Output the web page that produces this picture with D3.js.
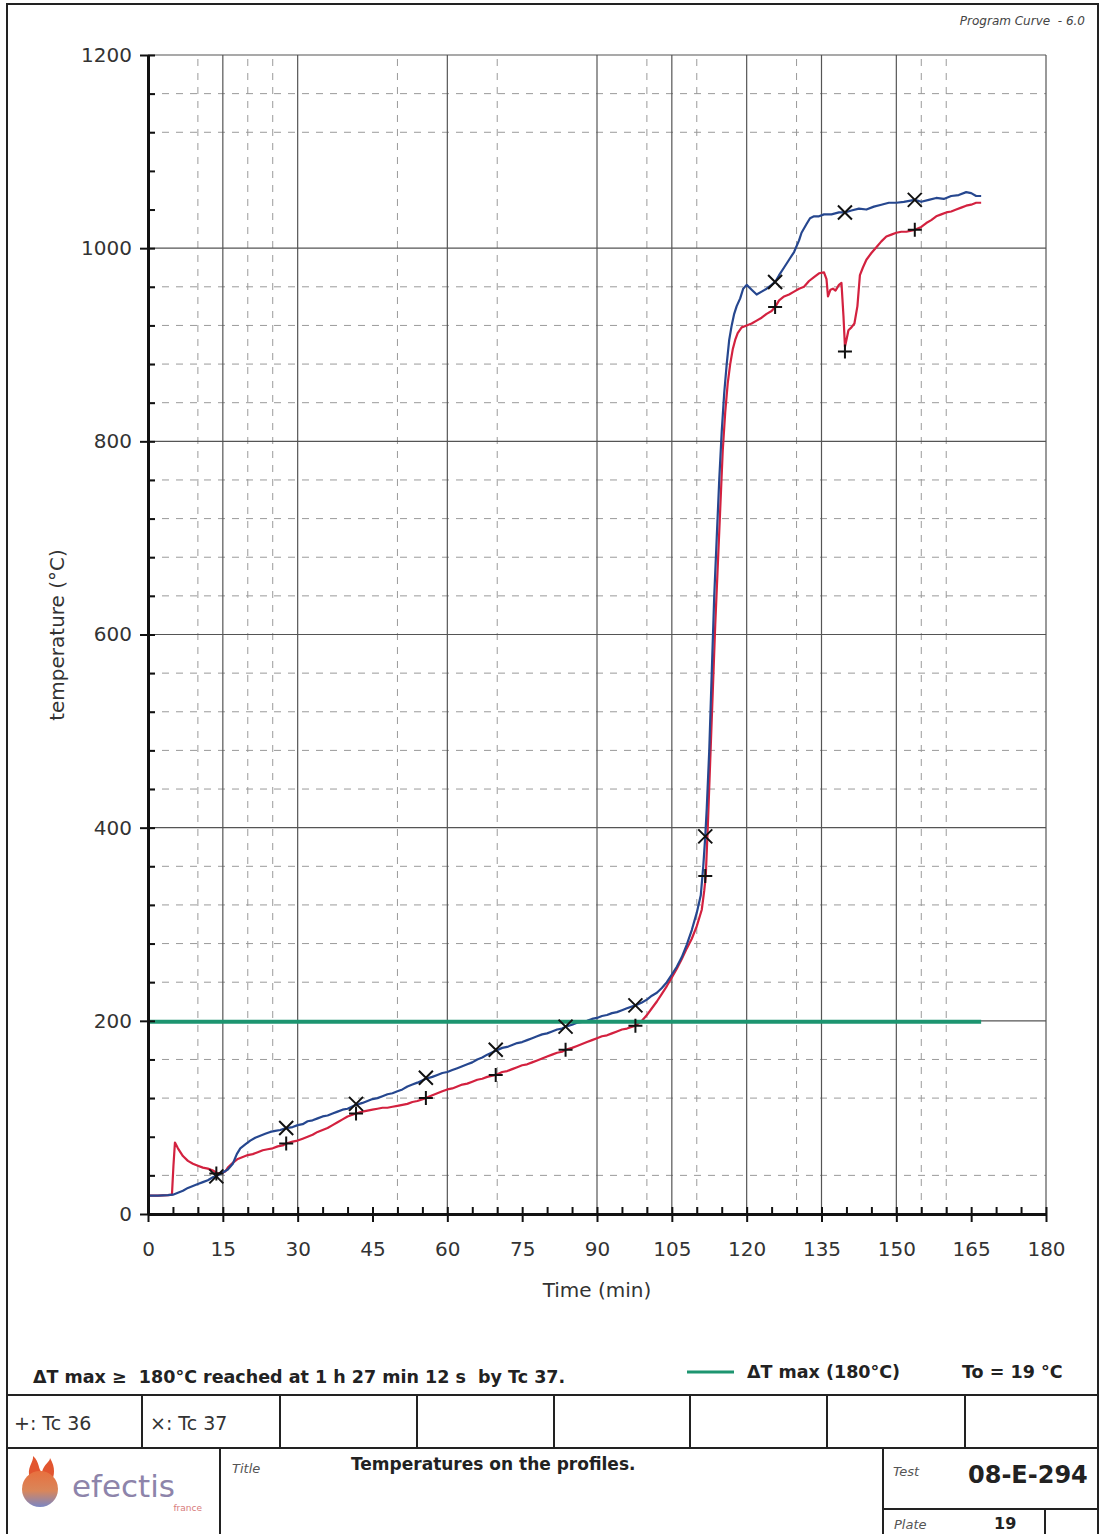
<!DOCTYPE html>
<html>
<head>
<meta charset="utf-8">
<title>Temperatures on the profiles</title>
<script src="https://d3js.org/d3.v7.min.js"></script>
<style>
  body { margin: 0; background: #fff; }
  svg text { font-family: "DejaVu Sans", sans-serif; fill: #222; white-space: pre; }
  .tick text { font-size: 20px; fill: #333; }
  .grid-solid { stroke: #555; stroke-width: 1.2; }
  .grid-dash { stroke: #9a9a9a; stroke-width: 1; stroke-dasharray: 7,7; }
</style>
</head>
<body>
<div id="chart"></div>
<script>
// data
const tc36Time = [0, 2, 4, 4.8, 5.1, 5.4, 6, 7, 8, 9, 10, 11, 12, 13, 14, 15, 15.5, 16, 17, 18, 19, 20, 21, 22, 23, 24, 25, 26, 27, 27.7,
  29, 30, 31, 32, 33, 34, 35, 36, 37, 38, 39, 40, 41.7, 43, 44, 45, 46, 47, 48, 49, 50, 51, 52, 53, 54, 55.7,
  57, 58, 59, 60, 61, 62, 63, 64, 65, 66, 67, 68, 69.7, 71, 72, 73, 74, 75, 76, 77, 78, 79, 80, 81, 82, 83, 83.7,
  85, 86, 87, 88, 89, 90, 91, 92, 93, 94, 95, 96, 97.7, 99, 100, 101, 102, 103, 104, 105, 106, 107, 108, 109, 110,
  111, 111.5, 111.8, 112.2, 112.7, 113.2, 113.7, 114.2, 114.7, 115.2, 115.7, 116.2, 116.7, 117.2, 117.7, 118.2, 119, 120,
  121, 122, 123, 124, 125, 125.7, 126.5, 127.5, 128.5, 129.5, 130.5, 131.5, 132.5, 133.5, 134.5, 135.5, 136, 136.3,
  136.8, 137.3, 137.8, 138.5, 139, 139.4, 139.7, 140, 140.4, 141, 141.6, 142.2, 142.7, 143.3, 144, 145, 146, 147, 148,
  149, 150, 151, 152, 153.7, 155, 156, 157, 158, 159, 160, 161, 162, 163, 164, 165, 166, 167];
const tc36Temp = [19, 19, 19.5, 20, 50, 74, 68, 60, 55, 52, 50, 48, 47, 45, 42, 43, 44, 48, 53, 57, 59, 61, 62, 64, 66, 67, 68, 70, 71, 73,
  75, 76, 78, 80, 82, 85, 87, 89, 92, 95, 98, 101, 104, 106, 107, 108, 109, 110, 110, 111, 112, 113, 114, 116, 117, 120,
  123, 125, 127, 129, 130, 132, 134, 135, 137, 139, 140, 142, 144, 147, 148, 150, 152, 154, 155, 157, 159, 161, 163, 165, 167, 168, 170,
  172, 174, 176, 178, 180, 182, 184, 185, 187, 189, 191, 192, 195, 200, 206, 213, 220, 228, 236, 245, 254, 264, 275, 285, 298,
  315, 335, 350, 400, 470, 540, 610, 670, 730, 790, 830, 860, 880, 895, 905, 912, 918, 920,
  922, 925, 928, 932, 935, 939, 946, 950, 952, 955, 958, 960, 966, 970, 974, 975, 968, 950,
  957, 958, 956, 962, 964, 930, 898, 905, 915, 918, 922, 940, 972, 980, 988, 995, 1001, 1007, 1012,
  1014, 1016, 1017, 1017, 1019, 1022, 1026, 1029, 1033, 1035, 1037, 1038, 1040, 1042, 1044, 1045, 1047, 1047];

const tc37Time = [0, 2, 4, 5, 6, 7, 8, 9, 10, 11, 12, 13, 14, 15, 16, 17, 17.8, 18.5, 19.5, 20.5, 21.5, 22.5, 23.5, 24.5, 25.5, 26.5, 27.7,
  29, 30, 31, 32, 33, 34, 35, 36, 37, 38, 39, 40, 41.7, 43, 44, 45, 46, 47, 48, 49, 50, 51, 52, 53, 54, 55.7,
  57, 58, 59, 60, 61, 62, 63, 64, 65, 66, 67, 68, 69.7, 71, 72, 73, 74, 75, 76, 77, 78, 79, 80, 81, 82, 83, 83.7,
  85, 86, 87, 88, 89, 90, 91, 92, 93, 94, 95, 96, 97.7, 99, 100, 101, 102, 103, 104, 105, 106, 107, 108, 109, 110,
  110.8, 111.3, 111.7, 112, 112.5, 113, 113.5, 114, 114.5, 115, 115.5, 116, 116.5, 117, 117.5, 118, 118.7, 119.3, 120,
  121, 122, 123, 124, 125, 125.7, 126.5, 127.5, 128.5, 129.5, 130.5, 131, 132, 132.7, 133.5, 134.5, 135.5, 137, 138.5,
  139.7, 141, 142.5, 144, 145.5, 147, 148.5, 150, 151.5, 153.7, 155, 156.5, 158, 159.5, 161, 162.5, 164, 165, 166, 167];
const tc37Temp = [19, 19, 19.5, 20, 22, 24, 27, 29, 31, 33, 35, 38, 40, 43, 46, 52, 62, 68, 72, 76, 79, 81, 83, 85, 86, 87, 89,
  90, 92, 93, 96, 97, 99, 101, 102, 104, 106, 108, 109, 113, 115, 117, 119, 120, 122, 124, 125, 127, 129, 132, 134, 136, 140,
  142, 144, 146, 147, 149, 151, 153, 155, 157, 160, 162, 165, 169, 172, 173, 175, 177, 178, 180, 182, 184, 186, 187, 189, 191, 192, 194,
  196, 198, 199, 200, 202, 203, 205, 206, 208, 209, 211, 213, 216, 219, 222, 226, 229, 234, 240, 248, 256, 266, 279, 294, 312,
  330, 360, 391, 420, 480, 560, 640, 700, 760, 810, 850, 880, 905, 920, 932, 940, 948, 958, 962,
  957, 952, 955, 958, 962, 965, 972, 980, 988, 996, 1008, 1016, 1025, 1031, 1033, 1033, 1035, 1035, 1037,
  1037, 1039, 1041, 1040, 1043, 1045, 1047, 1047, 1048, 1050, 1048, 1050, 1052, 1051, 1054, 1055, 1058, 1057, 1054, 1054];

// marker samples (+ on Tc 36, x on Tc 37)
const markerTime = [13.7, 27.7, 41.7, 55.7, 69.7, 83.7, 97.7, 111.7, 125.7, 139.7, 153.7];
const tc36Marks = [42, 73, 104, 120, 144, 170, 195, 350, 939, 893, 1019];
const tc37Marks = [39, 89, 114, 141, 170, 194, 216, 391, 965, 1037, 1050];

// criterion: To + 180 = 199 degC
const limitTime = [0, 167];
const limitTemp = [199, 199];

// ticks and grid
const xMajorTicks = [0, 15, 30, 45, 60, 75, 90, 105, 120, 135, 150, 165, 180];
const xMinorTicks = [5, 10, 20, 25, 35, 40, 50, 55, 65, 70, 80, 85, 95, 100, 110, 115, 125, 130, 140, 145, 155, 160, 170, 175];
const yMajorTicks = [0, 200, 400, 600, 800, 1000, 1200];
const yMinorTicks = [40, 80, 120, 160, 240, 280, 320, 360, 440, 480, 520, 560, 640, 680, 720, 760, 840, 880, 920, 960, 1040, 1080, 1120, 1160];
const vGridSolid = [15, 30, 60, 90, 105, 120, 135, 150, 180];
const vGridDashed = [10, 20, 25, 50, 70, 100, 110, 130, 155, 160];
const hGridSolid = [200, 400, 600, 800, 1000, 1200];
const hGridDashed = [40, 120, 160, 240, 280, 320, 360, 440, 480, 520, 560, 640, 680, 720, 760, 840, 880, 920, 960, 1120, 1160];

const W = 1102, H = 1534;
const svg = d3.select("#chart").append("svg")
  .attr("width", W).attr("height", H);

const x = d3.scaleLinear().domain([0, 180]).range([148, 1046]);
const y = d3.scaleLinear().domain([0, 1200]).range([1214, 55]);

// page frame
svg.append("rect")
  .attr("x", 7).attr("y", 4).attr("width", 1091).attr("height", H + 10)
  .attr("fill", "none").attr("stroke", "#222").attr("stroke-width", 2);

svg.append("text")
  .attr("x", 1085).attr("y", 25)
  .attr("text-anchor", "end")
  .style("font-size", "12px").style("font-style", "italic").style("fill", "#444")
  .text("Program Curve  - 6.0");

// grid
const grid = svg.append("g");
grid.selectAll(".hd").data(hGridDashed).join("line")
  .attr("class", "grid-dash")
  .attr("x1", x(0)).attr("x2", x(180))
  .attr("y1", d => y(d)).attr("y2", d => y(d));
grid.selectAll(".vd").data(vGridDashed).join("line")
  .attr("class", "grid-dash")
  .attr("x1", d => x(d)).attr("x2", d => x(d))
  .attr("y1", y(0)).attr("y2", y(1200));
grid.selectAll(".hs").data(hGridSolid).join("line")
  .attr("class", "grid-solid")
  .attr("x1", x(0)).attr("x2", x(180))
  .attr("y1", d => y(d)).attr("y2", d => y(d));
grid.selectAll(".vs").data(vGridSolid).join("line")
  .attr("class", "grid-solid")
  .attr("x1", d => x(d)).attr("x2", d => x(d))
  .attr("y1", y(0)).attr("y2", y(1200));

// curves
const line = d3.line().x(d => x(d[0])).y(d => y(d[1]));
const red = tc36Time.map((t, i) => [t, tc36Temp[i]]);
const blue = tc37Time.map((t, i) => [t, tc37Temp[i]]);

svg.append("path").datum(red)
  .attr("d", line).attr("fill", "none")
  .attr("stroke", "#d3213f").attr("stroke-width", 2.2).attr("stroke-linejoin", "round");
svg.append("path").datum(blue)
  .attr("d", line).attr("fill", "none")
  .attr("stroke", "#26478f").attr("stroke-width", 2.2).attr("stroke-linejoin", "round");

svg.append("path").datum(limitTime.map((t, i) => [t, limitTemp[i]]))
  .attr("d", line).attr("fill", "none")
  .attr("stroke", "#1d9570").attr("stroke-width", 4);

// markers
svg.selectAll(".plus").data(markerTime).join("path")
  .attr("d", (d, i) => `M${x(d) - 7},${y(tc36Marks[i])}h14M${x(d)},${y(tc36Marks[i]) - 7}v14`)
  .attr("stroke", "#111").attr("stroke-width", 2).attr("fill", "none");
svg.selectAll(".cross").data(markerTime).join("path")
  .attr("d", (d, i) => `M${x(d) - 7},${y(tc37Marks[i]) - 7}l14,14M${x(d) - 7},${y(tc37Marks[i]) + 7}l14,-14`)
  .attr("stroke", "#111").attr("stroke-width", 2).attr("fill", "none");

// axes
svg.append("g").attr("transform", `translate(0,${y(0)})`)
  .call(d3.axisBottom(x).tickValues(xMajorTicks).tickSize(8).tickSizeOuter(0).tickPadding(20));
svg.append("g").attr("transform", `translate(0,${y(0)})`)
  .call(d3.axisBottom(x).tickValues(xMajorTicks.concat(xMinorTicks)).tickSize(-7).tickSizeOuter(0).tickFormat(""));
svg.append("g").attr("transform", `translate(${x(0)},0)`)
  .call(d3.axisLeft(y).tickValues(yMajorTicks).tickSize(8).tickSizeOuter(0).tickPadding(8).tickFormat(d3.format("d")));
svg.append("g").attr("transform", `translate(${x(0)},0)`)
  .call(d3.axisLeft(y).tickValues(yMajorTicks.concat(yMinorTicks)).tickSize(-7).tickSizeOuter(0).tickFormat(""));

svg.selectAll(".domain").attr("stroke", "#111").attr("stroke-width", 3);
svg.selectAll(".tick line").attr("stroke", "#111").attr("stroke-width", 2);
svg.selectAll(".tick text").style("font-family", "'DejaVu Sans', sans-serif");

svg.append("text")
  .attr("x", 597).attr("y", 1297)
  .attr("text-anchor", "middle")
  .style("font-size", "20px").style("fill", "#333")
  .text("Time (min)");
svg.append("text")
  .attr("transform", "translate(64,635) rotate(-90)")
  .attr("text-anchor", "middle")
  .style("font-size", "20px").style("fill", "#333")
  .text("temperature (°C)");

// criterion line + legend
svg.append("text")
  .attr("x", 33).attr("y", 1383)
  .style("font-size", "17.5px").style("font-weight", "bold")
  .text("ΔT max ≥  180°C reached at 1 h 27 min 12 s  by Tc 37.");
svg.append("line")
  .attr("x1", 687).attr("x2", 734).attr("y1", 1372).attr("y2", 1372)
  .attr("stroke", "#1d9570").attr("stroke-width", 3);
svg.append("text")
  .attr("x", 747).attr("y", 1378)
  .style("font-size", "17.5px").style("font-weight", "bold")
  .text("ΔT max (180°C)");
svg.append("text")
  .attr("x", 962).attr("y", 1378)
  .style("font-size", "17.5px").style("font-weight", "bold")
  .text("To = 19 °C");

// title block
const tb = svg.append("g").attr("stroke", "#222").attr("stroke-width", 2);
tb.append("line").attr("x1", 7).attr("x2", 1098).attr("y1", 1395).attr("y2", 1395);
tb.append("line").attr("x1", 7).attr("x2", 1098).attr("y1", 1448).attr("y2", 1448);
[142, 280, 417, 554, 690, 827, 965].forEach(cx =>
  tb.append("line").attr("x1", cx).attr("x2", cx).attr("y1", 1395).attr("y2", 1448));
tb.append("line").attr("x1", 220).attr("x2", 220).attr("y1", 1448).attr("y2", H);
tb.append("line").attr("x1", 883).attr("x2", 883).attr("y1", 1448).attr("y2", H);
tb.append("line").attr("x1", 883).attr("x2", 1098).attr("y1", 1509).attr("y2", 1509);
tb.append("line").attr("x1", 1045).attr("x2", 1045).attr("y1", 1509).attr("y2", H);

svg.append("text").attr("x", 14).attr("y", 1430)
  .style("font-size", "19px").style("fill", "#333").text("+: Tc 36");
svg.append("text").attr("x", 150).attr("y", 1430)
  .style("font-size", "19px").style("fill", "#333").text("×: Tc 37");

svg.append("text").attr("x", 232).attr("y", 1473)
  .style("font-size", "13px").style("font-style", "italic").style("fill", "#555").text("Title");
svg.append("text").attr("x", 351).attr("y", 1470)
  .style("font-size", "17px").style("font-weight", "bold").text("Temperatures on the profiles.");
svg.append("text").attr("x", 893).attr("y", 1476)
  .style("font-size", "13px").style("font-style", "italic").style("fill", "#555").text("Test");
svg.append("text").attr("x", 968).attr("y", 1483)
  .style("font-size", "24px").style("font-weight", "bold").text("08-E-294");
svg.append("text").attr("x", 894).attr("y", 1529)
  .style("font-size", "13px").style("font-style", "italic").style("fill", "#555").text("Plate");
svg.append("text").attr("x", 994).attr("y", 1529)
  .style("font-size", "16px").style("font-weight", "bold").text("19");

// logo
const defs = svg.append("defs");
const lg = defs.append("linearGradient").attr("id", "ball")
  .attr("x1", "0%").attr("y1", "0%").attr("x2", "0%").attr("y2", "100%");
lg.append("stop").attr("offset", "0%").attr("stop-color", "#e8703e");
lg.append("stop").attr("offset", "55%").attr("stop-color", "#d9865a");
lg.append("stop").attr("offset", "100%").attr("stop-color", "#7a86c4");
const logo = svg.append("g");
logo.append("path")
  .attr("d", "M30,1478 C26,1468 34,1462 33,1456 C40,1462 38,1470 42,1472 C44,1464 50,1462 50,1458 C56,1468 54,1476 52,1480 Z")
  .attr("fill", "#e2552f");
logo.append("circle").attr("cx", 40).attr("cy", 1489).attr("r", 18).attr("fill", "url(#ball)");
logo.append("text").attr("x", 72).attr("y", 1497)
  .style("font-size", "31px").style("fill", "#8d84aa").style("font-family", "'DejaVu Sans', sans-serif")
  .text("efectis");
logo.append("text").attr("x", 202).attr("y", 1511).attr("text-anchor", "end")
  .style("font-size", "9px").style("fill", "#d77a7a").text("france");
</script>
</body>
</html>
